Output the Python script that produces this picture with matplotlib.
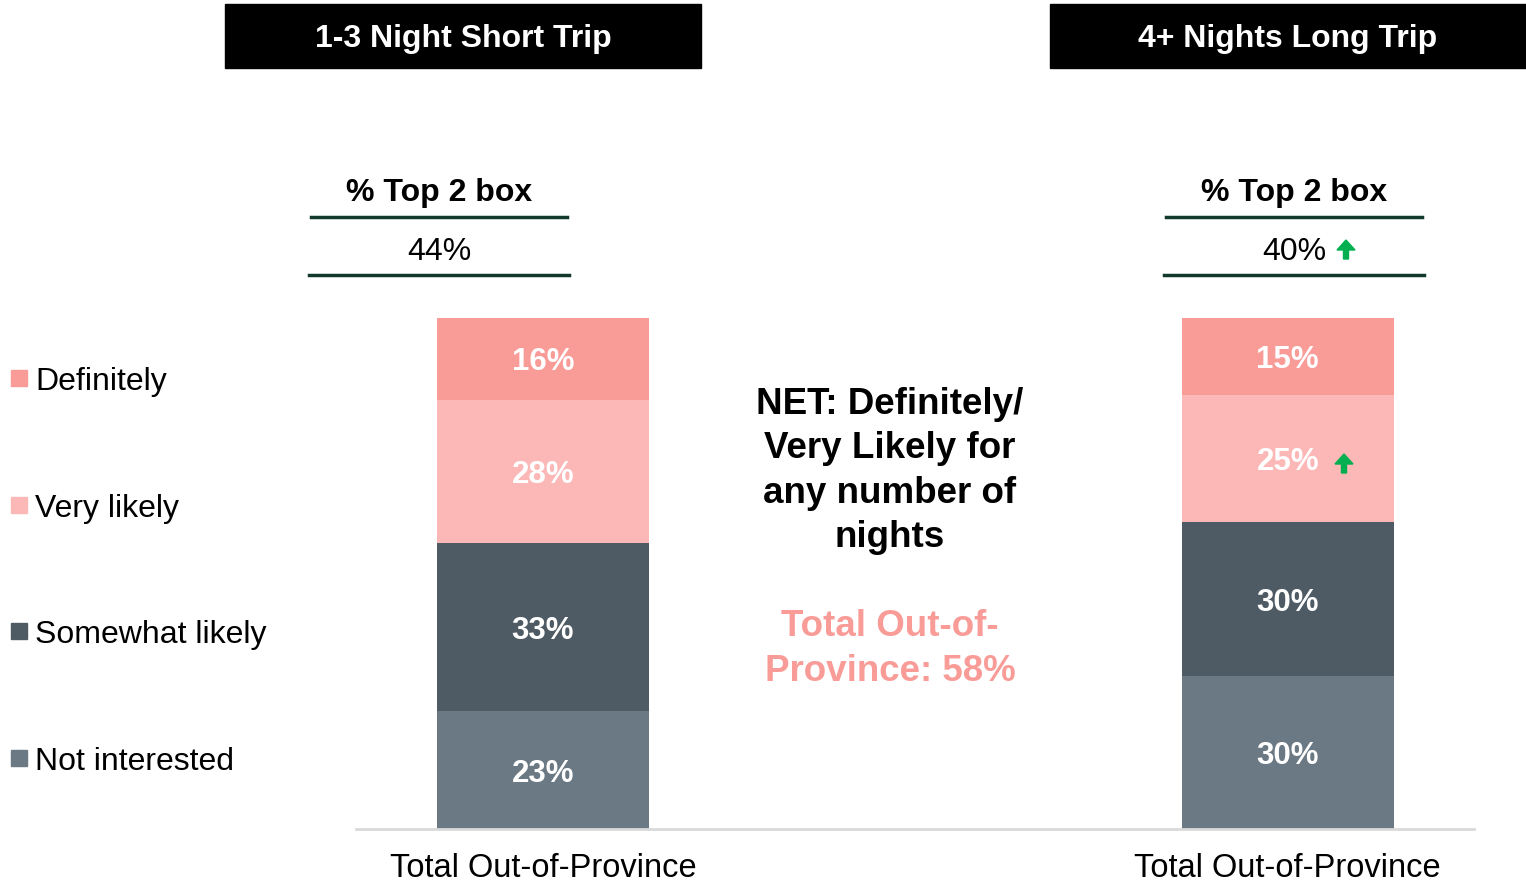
import numpy as np
import matplotlib.pyplot as plt
from matplotlib.patches import Rectangle, FancyArrow
from matplotlib.transforms import IdentityTransform

plt.rcParams['font.family'] = ['Liberation Sans', 'DejaVu Sans']

# --- données ---
trips = ["1-3 Night Short Trip", "4+ Nights Long Trip"]
categories = ["Total Out-of-Province", "Total Out-of-Province"]
levels = ["Not interested", "Somewhat likely", "Very likely", "Definitely"]
not_interested = [23, 30]
somewhat = [33, 30]
very_likely = [28, 25]
definitely = [16, 15]
top2 = ["44%", "40%"]
net_text = "NET: Definitely/\nVery Likely for\nany number of\nnights"
net_total = "Total Out-of-\nProvince: 58%"

colors = {"Definitely": "#F99C98", "Very likely": "#FCB8B7",
          "Somewhat likely": "#4F5B64", "Not interested": "#6A7984"}
dark_green = "#123A2C"
up_green = "#00B050"

W, H = 1526, 884
fig = plt.figure(figsize=(W / 100, H / 100), dpi=100)


def fx(x):
    return x / W


def fy(y):
    return 1 - y / H


# --- axes des barres ---
ax = fig.add_axes([fx(356), fy(829), fx(1474) - fx(356), fy(318) - fy(829)])
x = np.arange(len(categories))
width = 0.2846
bottom = np.zeros(len(categories))
series = [not_interested, somewhat, very_likely, definitely]
for name, vals in zip(levels, series):
    bars = ax.bar(x, vals, width, bottom=bottom, color=colors[name], linewidth=0)
    labels = ax.bar_label(bars, labels=[f"{v}%" for v in vals], label_type="center",
                          color="white", fontsize=22.5, fontweight="bold")
    for t in labels:
        t.set_va("center_baseline")
    bottom += vals

ax.set_xlim(-0.251, 1.25)
ax.set_ylim(0, 100)
ax.set_xticks(x)
ax.set_xticklabels(categories, fontsize=23.5)
ax.tick_params(axis="x", length=0, pad=17)
ax.set_yticks([])
for s in ["top", "left", "right"]:
    ax.spines[s].set_visible(False)
ax.spines["bottom"].set_color("#D9D9D9")
ax.spines["bottom"].set_linewidth(2)

# --- bandeaux ---
for (x0, x1), title in zip([(225, 701), (1050, 1526)], trips):
    fig.add_artist(Rectangle((fx(x0), fy(68)), fx(x1) - fx(x0), fy(4) - fy(68),
                             transform=fig.transFigure, color="black"))
    fig.text(fx((x0 + x1) / 2), fy(35), title, color="white", fontsize=23,
             fontweight="bold", ha="center", va="center_baseline")

# --- % Top 2 box ---
for cx, val in zip([439, 1294], top2):
    fig.text(fx(cx), fy(190), "% Top 2 box", fontsize=23, fontweight="bold",
             ha="center", va="center_baseline")
    fig.add_artist(plt.Line2D([fx(cx - 128), fx(cx + 128)], [fy(217), fy(217)],
                              color=dark_green, lw=2.5, transform=fig.transFigure))
    fig.add_artist(plt.Line2D([fx(cx - 130), fx(cx + 130)], [fy(275), fy(275)],
                              color=dark_green, lw=2.5, transform=fig.transFigure))
    fig.text(fx(cx), fy(248), val, fontsize=23, ha="center", va="center_baseline")

# flèches de hausse (coordonnées pixels)
for ax_x, y_tail in [(1346, 259), (1344, 473)]:
    fig.add_artist(FancyArrow(ax_x, H - y_tail, 0, 19, width=5, head_width=18,
                              head_length=10, length_includes_head=True,
                              color=up_green, transform=IdentityTransform()))

# --- légende ---
for name, ly in zip(levels[::-1], [378, 505, 631, 758]):
    fig.add_artist(Rectangle((fx(11), fy(ly + 8)), fx(16), 16 / H,
                             transform=fig.transFigure, color=colors[name]))
    fig.text(fx(35), fy(ly), name, fontsize=23, ha="left", va="center_baseline")

# --- texte central ---
fig.text(fx(890), fy(471), net_text, fontsize=26.5, fontweight="bold",
         ha="center", va="center", linespacing=1.34)
fig.text(fx(890), fy(649), net_total, fontsize=26.5, fontweight="bold",
         ha="center", va="center", linespacing=1.34, color=colors["Definitely"])

fig.savefig("out.png", dpi=100)
